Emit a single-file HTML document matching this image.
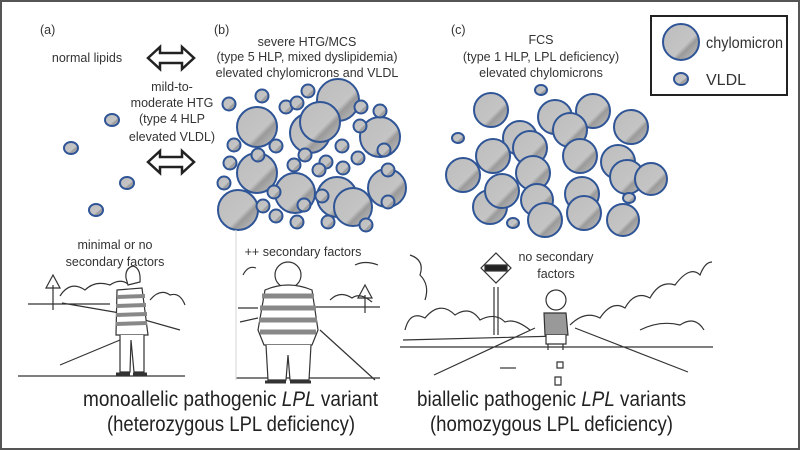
<!DOCTYPE html>
<html><head><style>
html,body{margin:0;padding:0;background:#fff}
svg{display:block}
text{font-family:"Liberation Sans",sans-serif;fill:#333}
</style></head><body>
<svg width="800" height="450" viewBox="0 0 800 450" xmlns="http://www.w3.org/2000/svg">
<defs>
<linearGradient id="g" x1="0" y1="0" x2="1" y2="1">
<stop offset="0" stop-color="#bdbdbd"/><stop offset="0.6" stop-color="#c4c4c4"/><stop offset="0.68" stop-color="#9a9a9a"/><stop offset="1" stop-color="#c8c8c8"/>
</linearGradient>
</defs>
<rect x="1" y="1" width="798" height="448" fill="#fff" stroke="#555" stroke-width="2"/>
<g font-size="12.5">
<text x="40" y="34">(a)</text>
<text x="214" y="34">(b)</text>
<text x="451" y="34">(c)</text>
<text x="87" y="62" text-anchor="middle">normal lipids</text>
<text x="172" y="91" text-anchor="middle">mild-to-</text>
<text x="172" y="107" text-anchor="middle">moderate HTG</text>
<text x="172" y="123" text-anchor="middle">(type 4 HLP</text>
<text x="172" y="141" text-anchor="middle">elevated VLDL)</text>
<text x="307" y="46" text-anchor="middle">severe HTG/MCS</text>
<text x="307" y="61" text-anchor="middle">(type 5 HLP, mixed dyslipidemia)</text>
<text x="307" y="77" text-anchor="middle">elevated chylomicrons and VLDL</text>
<text x="541" y="44" text-anchor="middle">FCS</text>
<text x="541" y="61" text-anchor="middle">(type 1 HLP, LPL deficiency)</text>
<text x="541" y="77" text-anchor="middle">elevated chylomicrons</text>
<text x="115" y="249" text-anchor="middle">minimal or no</text>
<text x="115" y="266" text-anchor="middle">secondary factors</text>
<text x="303" y="256" text-anchor="middle">++ secondary factors</text>
<text x="556" y="261" text-anchor="middle">no secondary</text>
<text x="556" y="278" text-anchor="middle">factors</text>
</g>
<!-- legend -->
<rect x="651" y="16" width="136" height="79" fill="#fff" stroke="#222" stroke-width="2"/>
<circle cx="681" cy="42" r="18" fill="url(#g)" stroke="#2f5597" stroke-width="2"/>
<ellipse cx="681" cy="79" rx="7" ry="6" fill="url(#g)" stroke="#2f5597" stroke-width="2"/>
<text x="706" y="48" font-size="16" textLength="77" lengthAdjust="spacingAndGlyphs">chylomicron</text>
<text x="706" y="85" font-size="16">VLDL</text>
<!-- arrows -->
<g fill="#fff" stroke="#222" stroke-width="2.5" stroke-linejoin="miter">
<path d="M148,58 L160,47 L160,53 L182,53 L182,47 L194,58 L182,69 L182,63 L160,63 L160,69 Z"/>
<path d="M148,162 L160,151 L160,157 L182,157 L182,151 L194,162 L182,173 L182,167 L160,167 L160,173 Z"/>
</g>
<g fill="url(#g)" stroke="#2f5597" stroke-width="2">
<ellipse cx="112" cy="120" rx="7" ry="6"/><ellipse cx="71" cy="148" rx="7" ry="6"/><ellipse cx="127" cy="183" rx="7" ry="6"/><ellipse cx="96" cy="210" rx="7" ry="6"/>
<circle cx="338" cy="100" r="21"/><circle cx="257" cy="127" r="20"/><circle cx="310" cy="133" r="20"/><circle cx="320" cy="122" r="20"/><circle cx="380" cy="137" r="20"/>
<circle cx="257" cy="173" r="20"/><circle cx="295" cy="193" r="20"/><circle cx="337" cy="197" r="20"/><circle cx="238" cy="210" r="20"/><circle cx="387" cy="188" r="19"/><circle cx="353" cy="207" r="19"/>
<circle cx="229" cy="104" r="6.5"/><circle cx="262" cy="96" r="6.5"/><circle cx="286" cy="107" r="6.5"/><circle cx="297" cy="103" r="6.5"/><circle cx="308" cy="91" r="6.5"/><circle cx="361" cy="107" r="6.5"/><circle cx="380" cy="111" r="6.5"/>
<circle cx="360" cy="126" r="6.5"/><circle cx="234" cy="145" r="6.5"/><circle cx="276" cy="146" r="6.5"/><circle cx="342" cy="146" r="6.5"/><circle cx="384" cy="150" r="6.5"/>
<circle cx="230" cy="163" r="6.5"/><circle cx="258" cy="155" r="6.5"/><circle cx="305" cy="155" r="6.5"/><circle cx="358" cy="158" r="6.5"/><circle cx="326" cy="162" r="6.5"/><circle cx="294" cy="165" r="6.5"/>
<circle cx="319" cy="170" r="6.5"/><circle cx="343" cy="168" r="6.5"/><circle cx="224" cy="183" r="6.5"/><circle cx="274" cy="192" r="6.5"/><circle cx="388" cy="170" r="6.5"/>
<circle cx="263" cy="206" r="6.5"/><circle cx="322" cy="196" r="6.5"/><circle cx="304" cy="205" r="6.5"/><circle cx="276" cy="216" r="6.5"/><circle cx="297" cy="222" r="6.5"/><circle cx="328" cy="222" r="6.5"/><circle cx="388" cy="202" r="6.5"/><circle cx="366" cy="225" r="6.5"/>
<circle cx="491" cy="110" r="17"/><circle cx="555" cy="117" r="17"/><circle cx="593" cy="111" r="17"/><circle cx="631" cy="127" r="17"/><circle cx="570" cy="130" r="17"/><circle cx="520" cy="138" r="17"/><circle cx="530" cy="148" r="17"/>
<circle cx="580" cy="156" r="17"/><circle cx="493" cy="156" r="17"/><circle cx="618" cy="162" r="17"/><circle cx="463" cy="175" r="17"/><circle cx="533" cy="173" r="17"/><circle cx="627" cy="177" r="17"/><circle cx="651" cy="179" r="16"/>
<circle cx="490" cy="207" r="17"/><circle cx="502" cy="191" r="17"/><circle cx="537" cy="200" r="16"/><circle cx="582" cy="194" r="17"/><circle cx="584" cy="213" r="17"/><circle cx="545" cy="220" r="17"/><circle cx="623" cy="220" r="16"/>
<ellipse cx="541" cy="90" rx="6" ry="5"/><ellipse cx="458" cy="138" rx="6" ry="5"/><ellipse cx="629" cy="198" rx="6" ry="5"/><ellipse cx="513" cy="223" rx="6" ry="5"/>
</g>
<g fill="none" stroke="#333" stroke-width="1.2">
<path d="M18,376 L185,376 M28,304 L110,304 M62,303 L120,313 M120,313 L180,330 M60,365 L120,340"/>
<path d="M60,296 Q70,280 85,290 Q95,280 110,285 Q120,278 128,284"/>
<path d="M150,300 Q160,288 170,295 Q180,292 185,305"/>
<path d="M53,310 L53,285 M46,288 L53,275 L60,288 Z"/>
<path d="M126,278 Q125,268 133,266 Q141,268 140,282 L128,285 Z" fill="#fff"/>
<path d="M117,290 L142,288 L148,335 L116,335 Z" fill="#fff"/>
<g stroke="#888" stroke-width="4"><path d="M117,297 L145,296 M116,306 L146,305 M116,315 L147,314 M116,324 L147,323"/></g>
<path d="M120,335 L120,372 L130,372 L131,340 L134,372 L144,372 L144,335" fill="#fff"/>
<path d="M116,374 L130,374 M133,374 L147,374" stroke-width="3"/>
<path d="M238,308 L258,308 M316,307 L380,307 M240,322 L258,318 M320,330 L375,380 M236,378 L380,378"/>
<path d="M330,300 Q340,290 352,298 Q360,292 372,302"/>
<path d="M243,275 Q248,265 256,268 M355,265 Q365,260 378,265"/>
<path d="M365,313 L365,295 M358,298 L365,285 L372,298 Z"/>
<path d="M236,230 L236,380" stroke="#ddd"/>
<circle cx="288" cy="275" r="13" fill="#fff"/>
<path d="M265,290 Q288,280 312,290 L318,330 L312,345 L264,345 L258,330 Z" fill="#fff"/>
<g stroke="#888" stroke-width="5"><path d="M262,296 L314,296 M260,308 L316,308 M259,320 L317,320 M260,332 L316,332"/></g>
<path d="M266,345 L268,380 L286,380 L288,355 L290,380 L309,380 L311,345" fill="#fff"/>
<path d="M265,382 L286,382 M290,382 L311,382" stroke-width="3"/>
<path d="M400,347 L713,347 M434,375 L535,328 M575,328 L688,372 M403,340 L560,336"/>
<path d="M405,330 Q410,310 425,318 Q440,300 455,315 Q470,305 480,320 Q495,312 505,322 Q515,318 530,330"/>
<path d="M570,325 Q585,310 600,318 Q612,300 625,308 Q635,290 650,298 Q660,280 675,285 Q690,265 700,275 Q705,262 712,262 M640,330 Q660,320 680,325 Q695,315 704,330"/>
<path d="M410,255 Q425,260 420,275 Q430,285 425,300"/>
<path d="M494,335 L494,287 M498,335 L498,287"/>
<path d="M496,253 L511,268 L496,283 L481,268 Z" fill="#fff"/>
<rect x="485" y="265" width="22" height="6" fill="#222"/>
<path d="M557,368 L557,362 L563,362 L563,368 Z M555,385 L555,377 L561,377 L561,385 Z"/>
<path d="M500,368 L516,368"/>
<circle cx="556" cy="300" r="10" fill="#fff"/>
<path d="M544,313 L566,313 L568,335 L545,335 Z" fill="#999"/>
<path d="M546,335 L546,344 L566,344 L566,335" fill="#fff"/>
<path d="M548,344 L548,350 M563,344 L563,350"/>
</g>
<g font-size="21">
<text x="83" y="406" textLength="295" lengthAdjust="spacingAndGlyphs" style="fill:#222">monoallelic pathogenic <tspan font-style="italic">LPL</tspan> variant</text>
<text x="107" y="431" textLength="248" lengthAdjust="spacingAndGlyphs" style="fill:#222">(heterozygous LPL deficiency)</text>
<text x="417" y="406" textLength="269" lengthAdjust="spacingAndGlyphs" style="fill:#222">biallelic pathogenic <tspan font-style="italic">LPL</tspan> variants</text>
<text x="430" y="431" textLength="243" lengthAdjust="spacingAndGlyphs" style="fill:#222">(homozygous LPL deficiency)</text>
</g>
</svg>
</body></html>
